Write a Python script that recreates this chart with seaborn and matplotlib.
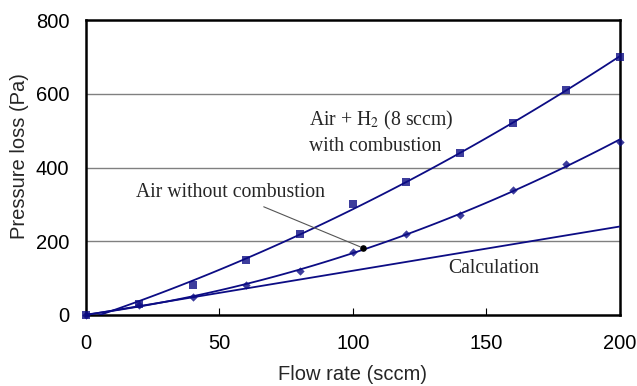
import matplotlib
matplotlib.use("Agg")
import matplotlib.pyplot as plt
import seaborn as sns
import numpy as np
import pandas as pd

flow = [0, 20, 40, 60, 80, 100, 120, 140, 160, 180, 200]
h2_comb = [0, 30, 80, 150, 220, 300, 360, 440, 520, 610, 700]
air_no = [0, 28, 50, 80, 120, 170, 220, 270, 340, 410, 470]
calc_x = [0, 200]
calc_y = [0, 240]

yticks = [0, 200, 400, 600, 800]
xticks = [0, 50, 100, 150, 200]

navy = "#0c0c84"

sns.set_style("white")
plt.rcParams['font.family'] = ['Liberation Sans', 'DejaVu Sans']
plt.rcParams['mathtext.fontset'] = 'stix'

fig = plt.figure(figsize=(6.37, 3.86), dpi=100)
ax = fig.add_axes([0.135, 0.184, 0.838, 0.764])

df = pd.DataFrame({"flow": flow, "h2": h2_comb, "air": air_no})

sns.regplot(data=df, x="flow", y="h2", order=2, ci=None, ax=ax, truncate=True,
            marker="s", color=navy,
            scatter_kws=dict(s=36, clip_on=False, zorder=4, linewidths=0),
            line_kws=dict(lw=1.3, zorder=3))
sns.regplot(data=df, x="flow", y="air", order=2, ci=None, ax=ax, truncate=True,
            marker="D", color=navy,
            scatter_kws=dict(s=18, clip_on=False, zorder=4, linewidths=0),
            line_kws=dict(lw=1.3, zorder=3))
sns.lineplot(x=calc_x, y=calc_y, ax=ax, color=navy, lw=1.3, zorder=3)

ax.set_xlim(0, 200)
ax.set_ylim(0, 800)
ax.set_xticks(xticks)
ax.set_yticks(yticks)
ax.set_xticklabels([str(v) for v in xticks], fontsize=14.5)
ax.set_yticklabels([str(v) for v in yticks], fontsize=14.5)
ax.set_xlabel("Flow rate (sccm)", fontsize=14.5, labelpad=8)
ax.set_ylabel("Pressure loss (Pa)", fontsize=14.5)
ax.yaxis.set_label_coords(-0.106, 0.54)

for y in [200, 400, 600]:
    ax.axhline(y, color="#808080", lw=1.0, zorder=1)

for s in ax.spines.values():
    s.set_visible(True)
    s.set_color("black")
    s.set_linewidth(1.8)

ax.tick_params(axis="x", direction="in", length=5, width=0.8, colors="black",
               pad=14, bottom=True, top=False)
ax.tick_params(axis="y", length=0, pad=12, colors="black")
for lab in ax.get_xticklabels() + ax.get_yticklabels():
    lab.set_color("black")

serif = ['Liberation Serif', 'DejaVu Serif']
fs = 14.2
ax.text(83.5, 528, "Air + H$_2$ (8 sccm)", fontsize=fs, family=serif, va="center", ha="left")
ax.text(83.5, 458, "with combustion", fontsize=fs, family=serif, va="center", ha="left")
ax.text(135.6, 127, "Calculation", fontsize=fs, family=serif, va="center", ha="left")
ax.annotate("Air without combustion", xy=(103.7, 182), xytext=(89.5, 331),
            fontsize=fs, family=serif, va="center", ha="right",
            arrowprops=dict(arrowstyle="-", color="#555555", lw=0.8))
ax.scatter([103.7], [182], s=14, color="black", zorder=5)

ax.set_facecolor("white")
fig.savefig("out.png", dpi=100, facecolor="white")
